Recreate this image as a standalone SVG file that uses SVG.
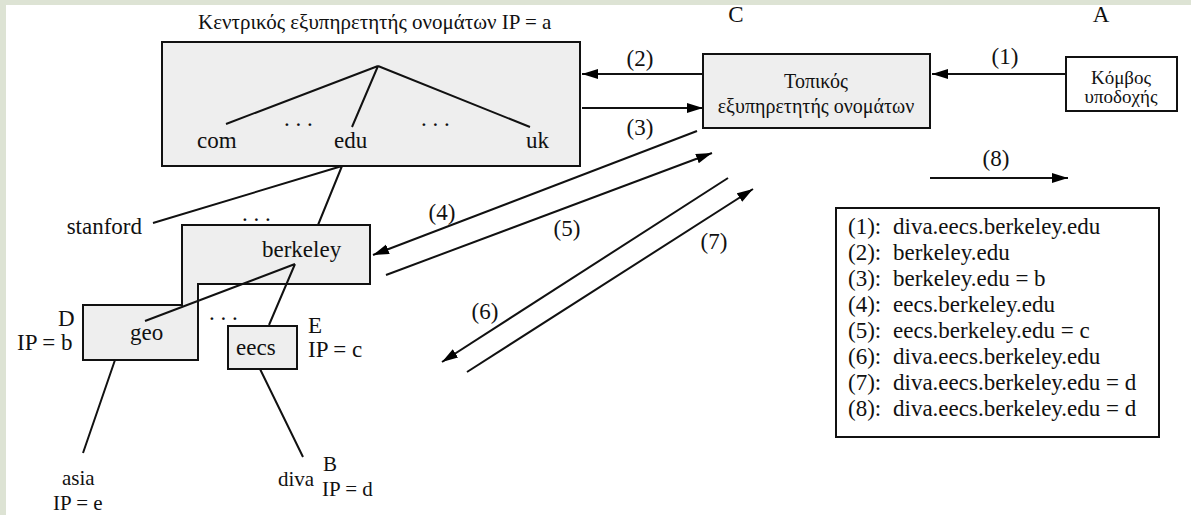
<svg xmlns="http://www.w3.org/2000/svg" width="1191" height="515" viewBox="0 0 1191 515">
<defs>
<marker id="ah" markerUnits="userSpaceOnUse" markerWidth="17" markerHeight="12" refX="16" refY="5" orient="auto">
<path d="M0,0 L16,5 L0,10 Z" fill="#000"/>
</marker>
<style>
text{font-family:"Liberation Serif","Times New Roman",serif;font-size:23px;fill:#111}
.t21{font-size:21px}
.t20{font-size:20px}
.t19{font-size:19px}
.box{fill:#eeeeee;stroke:#111;stroke-width:2}
.wbox{fill:#fff;stroke:#111;stroke-width:2}
.ln{stroke:#111;stroke-width:2;fill:none}
.ar{stroke:#111;stroke-width:2;fill:none;marker-end:url(#ah)}
.mid{text-anchor:middle}
.end{text-anchor:end}
</style>
</defs>
<rect x="0" y="0" width="1191" height="515" fill="#dde3d4"/>
<rect x="6" y="5" width="1185" height="510" fill="#fff"/>

<g id="root-server">
<text class="t21" x="198" y="29">Κεντρικός εξυπηρετητής ονομάτων IP = a</text>
<rect class="box" x="162" y="42" width="418" height="124"/>
<path class="ln" d="M378,66 L226,124 M378,66 L352,127 M378,66 L530,127"/>
<text x="197" y="148">com</text>
<text x="334" y="148">edu</text>
<text x="526" y="148">uk</text>
<text x="284" y="126">. . .</text>
<text x="421" y="126">. . .</text>
</g>

<g id="local-server">
<text class="mid" x="736" y="22">C</text>
<rect class="box" x="703" y="54" width="227" height="74"/>
<text class="mid t20" x="816" y="88">Τοπικός</text>
<text class="mid t20" x="816" y="113">εξυπηρετητής ονομάτων</text>
</g>

<g id="host-A">
<text class="mid" x="1101" y="22">A</text>
<rect class="wbox" x="1066" y="57" width="111" height="54"/>
<text class="mid t19" x="1121" y="84">Κόμβος</text>
<text class="mid t19" x="1121" y="103">υποδοχής</text>
</g>

<g id="berkeley">
<path class="box" d="M182,225 H370 V284 H198 V360 H83 V305 H182 Z"/>
<text x="262" y="257">berkeley</text>
<text x="242" y="221">. . .</text>
<path class="ln" d="M295,264 L145,321 M295,264 L269,325"/>
</g>

<g id="geo">
<text x="130" y="340">geo</text>
<text x="58" y="326">D</text>
<text x="17" y="350">IP = b</text>
</g>

<g id="eecs">
<rect class="box" x="228" y="326" width="69" height="43"/>
<text x="236" y="355">eecs</text>
<text x="308" y="333">E</text>
<text x="308" y="357">IP = c</text>
<text x="209" y="320">. . .</text>
</g>

<g id="stanford"><text class="end" x="142" y="234">stanford</text></g>
<g id="asia"><text class="t21" x="62" y="485">asia</text><text class="t21" x="53" y="510">IP = e</text></g>
<g id="diva"><text class="t21" x="278" y="486">diva</text><text class="t21" x="323" y="471">B</text><text class="t21" x="322" y="496">IP = d</text></g>

<g id="tree-links">
<path class="ln" d="M342,166 L153,223 M342,166 L318,225 M115,360 L83,453 M260,369 L303,457"/>
</g>

<g id="connectors">
<line class="ar" x1="1066" y1="74" x2="932" y2="74"/>
<line class="ar" x1="703" y1="74" x2="582" y2="74"/>
<line class="ar" x1="582" y1="108" x2="703" y2="108"/>
<line class="ar" x1="697" y1="131" x2="373" y2="255"/>
<line class="ar" x1="386" y1="275" x2="712" y2="153"/>
<line class="ar" x1="728" y1="178" x2="442" y2="362"/>
<line class="ar" x1="467" y1="372" x2="753" y2="189"/>
<line class="ar" x1="930" y1="178" x2="1068" y2="178"/>
<text class="mid" x="1005" y="64">(1)</text>
<text class="mid" x="640" y="66">(2)</text>
<text class="mid" x="640" y="135">(3)</text>
<text class="mid" x="442" y="220">(4)</text>
<text class="mid" x="567" y="236">(5)</text>
<text class="mid" x="485" y="319">(6)</text>
<text class="mid" x="714" y="249">(7)</text>
<text class="mid" x="996" y="166">(8)</text>
</g>

<g id="legend">
<rect class="wbox" x="836" y="208" width="323" height="229"/>
<text x="848" y="234">(1):</text><text x="893" y="234">diva.eecs.berkeley.edu</text>
<text x="848" y="260">(2):</text><text x="893" y="260">berkeley.edu</text>
<text x="848" y="286">(3):</text><text x="893" y="286">berkeley.edu = b</text>
<text x="848" y="312">(4):</text><text x="893" y="312">eecs.berkeley.edu</text>
<text x="848" y="338">(5):</text><text x="893" y="338">eecs.berkeley.edu = c</text>
<text x="848" y="364">(6):</text><text x="893" y="364">diva.eecs.berkeley.edu</text>
<text x="848" y="390">(7):</text><text x="893" y="390">diva.eecs.berkeley.edu = d</text>
<text x="848" y="416">(8):</text><text x="893" y="416">diva.eecs.berkeley.edu = d</text>
</g>
</svg>
